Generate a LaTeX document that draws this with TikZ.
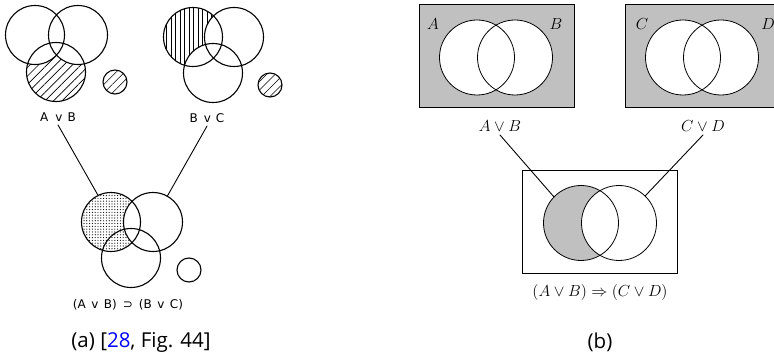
\RequirePackage{fix-cm}
\documentclass[tikz,border=0pt]{standalone}
\usepackage{fontspec}
\usepackage{xcolor}
\newfontfamily\handfont{DejaVu Sans}
\newfontfamily\capfont{Open Sans}
\usetikzlibrary{positioning,patterns.meta}
\definecolor{boxgray}{RGB}{192,192,192}
\tikzset{
	venn/.style={circle,draw,line width=1.1pt,inner sep=0pt,minimum size=59pt},
	pebble/.style={circle,draw,line width=1.1pt,inner sep=0pt,minimum size=24pt},
	setring/.style={circle,draw,line width=0.8pt,inner sep=0pt,minimum size=75pt},
	frame/.style={draw,line width=0.9pt,minimum width=155pt,minimum height=103pt},
	hand/.style={font=\handfont\fontsize{12}{14}\selectfont},
	mlab/.style={font=\fontsize{16}{19}\selectfont},
	capt/.style={font=\capfont\fontsize{20.5}{24}\selectfont},
	link/.style={line width=0.9pt},
	diag/.style={pattern={Lines[angle=45,distance=6pt,line width=0.6pt]}},
	vert/.style={pattern={Lines[angle=90,distance=4.5pt,line width=0.45pt]}},
	stip/.style={pattern={Dots[distance=2.8pt,radius=0.6pt]}}
}

\begin{document}
\begin{tikzpicture}[x=1pt,y=-1pt, line cap=round]
	\useasboundingbox (0,0) rectangle (774,358);
	% (a) hand drawn diagrams
	\coordinate (a1c) at (35,35);
	\coordinate (a2c) at (78,35);
	\coordinate (a3c) at (56,72);
	\coordinate (a4c) at (115,82);
	\coordinate (b1c) at (193,37);
	\coordinate (b2c) at (234,37);
	\coordinate (b3c) at (213,73);
	\coordinate (b4c) at (270,85);
	\coordinate (p1c) at (111,222);
	\coordinate (p2c) at (153,222);
	\coordinate (p3c) at (131,258);
	\coordinate (p4c) at (189,270);
	\begin{scope}
		\clip (a3c) circle (29.5);
		\fill[diag] (a3c) circle (29.5);
		\fill[white] (a1c) circle (29.5) (a2c) circle (29.5);
	\end{scope}
	\fill[diag] (a4c) circle (12);
	\begin{scope}
		\clip (b1c) circle (29.5);
		\fill[vert] (b1c) circle (29.5);
		\fill[white] (b2c) circle (29.5) (b3c) circle (29.5);
	\end{scope}
	\fill[diag] (b4c) circle (12);
	\begin{scope}
		\clip (p1c) circle (29.5);
		\fill[stip] (p1c) circle (29.5);
		\fill[white] (p2c) circle (29.5);
	\end{scope}
	\node[venn] (a1) at (a1c) {};
	\node[venn] (a2) at (a2c) {};
	\node[venn] (a3) at (a3c) {};
	\node[pebble] (a4) at (a4c) {};
	\node[venn] (b1) at (b1c) {};
	\node[venn] (b2) at (b2c) {};
	\node[venn] (b3) at (b3c) {};
	\node[pebble] (b4) at (b4c) {};
	\node[venn] (p1) at (p1c) {};
	\node[venn] (p2) at (p2c) {};
	\node[venn] (p3) at (p3c) {};
	\node[pebble] (p4) at (p4c) {};
	\node[hand] (la) at (58,117) {A\hspace{7pt}v\hspace{5pt}B};
	\node[hand] (lb) at (207,118) {B\hspace{6pt}v\hspace{5pt}C};
	\node[hand] (lp) at (128,305) {(A\hspace{5.5pt}v\hspace{5.5pt}B)\hspace{6pt}⊃\hspace{6pt}(B\hspace{5.5pt}v\hspace{5.5pt}C)};
	\draw[link] (la.south) -- (p1.116);
	\draw[link] (lb.south) -- (p2.61);
	\node[capt] (capa) at (141,342) {(a) [\textcolor{blue}{28}, Fig. 44]};
	% (b) boxed diagrams
	\coordinate (s1c) at (477,57.5);
	\coordinate (s2c) at (515,57.5);
	\coordinate (t1c) at (683,57.5);
	\coordinate (t2c) at (721,57.5);
	\coordinate (q1c) at (581,223);
	\coordinate (q2c) at (619,223);
	\node[frame,fill=boxgray] (fs) at (496.5,55.5) {};
	\node[frame,fill=boxgray] (ft) at (702.5,55.5) {};
	\node[frame] (fq) at (600,221.5) {};
	\fill[white] (s1c) circle (37.5) (s2c) circle (37.5);
	\fill[white] (t1c) circle (37.5) (t2c) circle (37.5);
	\fill[boxgray] (q1c) circle (37.5);
	\fill[white] (q2c) circle (37.5);
	\node[setring] (s1) at (s1c) {};
	\node[setring] (s2) at (s2c) {};
	\node[setring] (t1) at (t1c) {};
	\node[setring] (t2) at (t2c) {};
	\node[setring] (q1) at (q1c) {};
	\node[setring] (q2) at (q2c) {};
	\node[mlab] at (433,24) {$A$};
	\node[mlab] at (556,24) {$B$};
	\node[mlab] at (642,24) {$C$};
	\node[mlab] at (768,24) {$D$};
	\node[mlab] (ms) at (500,126) {$A \vee B$};
	\node[mlab] (mt) at (703,126) {$C \vee D$};
	\node[mlab] (mq) at (600,293) {$(A \vee B) \Rightarrow (C \vee D)$};
	\draw[link] (ms.south) -- (q1.136);
	\draw[link] (mt.south) -- (q2.46);
	\node[capt] (capb) at (600,342) {(b)};
\end{tikzpicture}
\end{document}
